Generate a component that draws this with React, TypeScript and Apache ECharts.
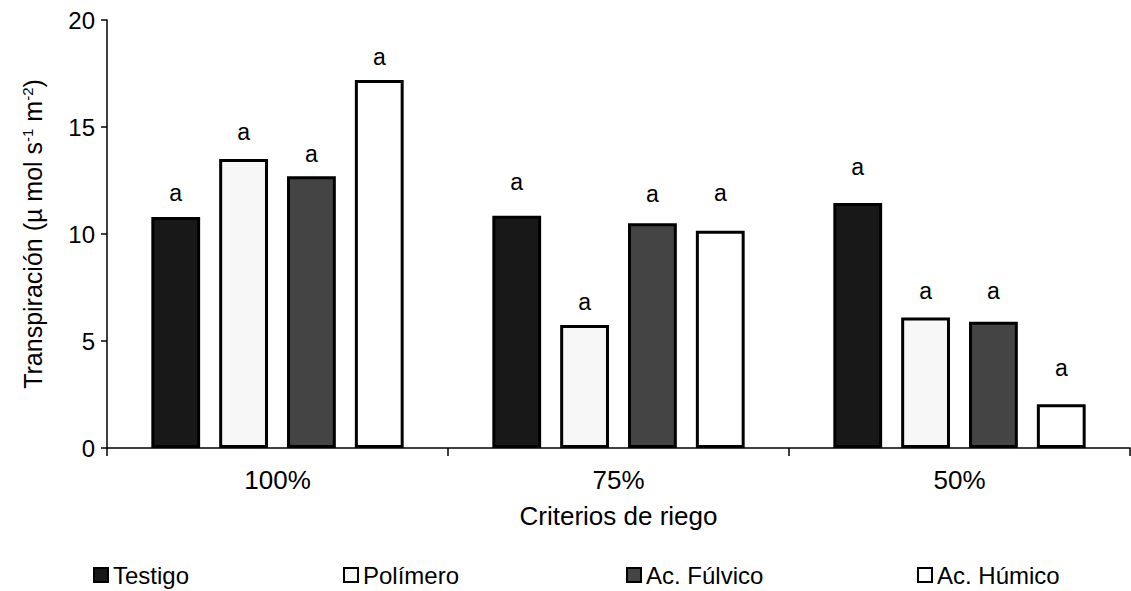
import React, { useEffect, useRef } from "react";
import * as echarts from "echarts";

const categories = ["100%", "75%", "50%"];
const treatments = ["Testigo", "Polímero", "Ac. Fúlvico", "Ac. Húmico"];
const testigo = [10.8, 10.85, 11.45];
const polimero = [13.5, 5.75, 6.1];
const fulvico = [12.7, 10.5, 5.9];
const humico = [17.2, 10.15, 2.05];
// heights (data units) at which the significance letters sit
const letterTestigo = [11.9, 12.45, 13.15];
const letterPolimero = [14.75, 6.8, 7.35];
const letterFulvico = [13.75, 11.85, 7.35];
const letterHumico = [18.25, 11.9, 3.75];
const letterText = "a";
const yTicks = [0, 5, 10, 15, 20];

const FONT = "'Liberation Sans', Arial, sans-serif";

export default function App() {
  const ref = useRef<HTMLDivElement>(null);
  useEffect(() => {
    document.body.style.margin = "0";
    const chart = echarts.init(ref.current!, null, { renderer: "svg" });
    const values = [testigo, polimero, fulvico, humico];
    const letters = [letterTestigo, letterPolimero, letterFulvico, letterHumico];
    const fills = ["#181818", "#f7f7f7", "#444444", "#ffffff"];
    const series: any[] = [];
    treatments.forEach((name, i) => {
      series.push({
        type: "bar",
        name,
        stack: "s" + i,
        data: values[i],
        barGap: "39%",
        barCategoryGap: "26%",
        itemStyle: { color: fills[i], borderColor: "#000", borderWidth: 3 },
      });
      series.push({
        type: "bar",
        name: name + " letra",
        stack: "s" + i,
        data: letters[i].map((l, j) => +(l - values[i][j]).toFixed(3)),
        barGap: "39%",
        barCategoryGap: "26%",
        itemStyle: { color: "transparent", borderWidth: 0 },
        label: {
          show: true,
          position: "top",
          distance: 0,
          verticalAlign: "middle",
          formatter: () => letterText,
          fontFamily: FONT,
          fontSize: 23,
          color: "#000",
        },
      });
    });
    const legendLefts = [88, 338, 621, 912];
    chart.setOption({
      animation: false,
      textStyle: { fontFamily: FONT },
      legend: treatments.map((t, i) => ({
        data: [t],
        left: legendLefts[i],
        top: 558,
        itemWidth: 14,
        itemHeight: 14,
        itemGap: 4,
        icon: "rect",
        selectedMode: false,
        textStyle: { fontFamily: FONT, fontSize: 24, color: "#000" },
      })),
      grid: { left: 107, right: 1, top: 20, bottom: 143, containLabel: false },
      xAxis: {
        type: "category",
        data: categories,
        name: "Criterios de riego",
        nameLocation: "middle",
        nameGap: 55,
        nameTextStyle: { fontFamily: FONT, fontSize: 26, color: "#000" },
        axisLine: { lineStyle: { color: "#000", width: 1.5 } },
        axisTick: { show: true, length: 8, lineStyle: { color: "#000", width: 1.5 } },
        axisLabel: { margin: 19, fontFamily: FONT, fontSize: 26, color: "#000" },
      },
      yAxis: {
        type: "value",
        min: yTicks[0],
        max: yTicks[yTicks.length - 1],
        interval: 5,
        name: "Transpiración (µ mol s{sup|-1} m{sup|-2})",
        nameLocation: "middle",
        nameGap: 62,
        nameTextStyle: {
          fontFamily: FONT,
          fontSize: 25,
          color: "#000",
          rich: {
            sup: { fontSize: 15, verticalAlign: "top", fontFamily: FONT, color: "#000", lineHeight: 25 },
          },
        },
        splitLine: { show: false },
        axisLine: { show: true, lineStyle: { color: "#000", width: 1.5 } },
        axisTick: { show: true, length: 6, lineStyle: { color: "#000", width: 1.5 } },
        axisLabel: { margin: 12, fontFamily: FONT, fontSize: 24, color: "#000" },
      },
      series,
    });
    return () => chart.dispose();
  }, []);
  return <div ref={ref} style={{ width: 1131, height: 591 }} />;
}
